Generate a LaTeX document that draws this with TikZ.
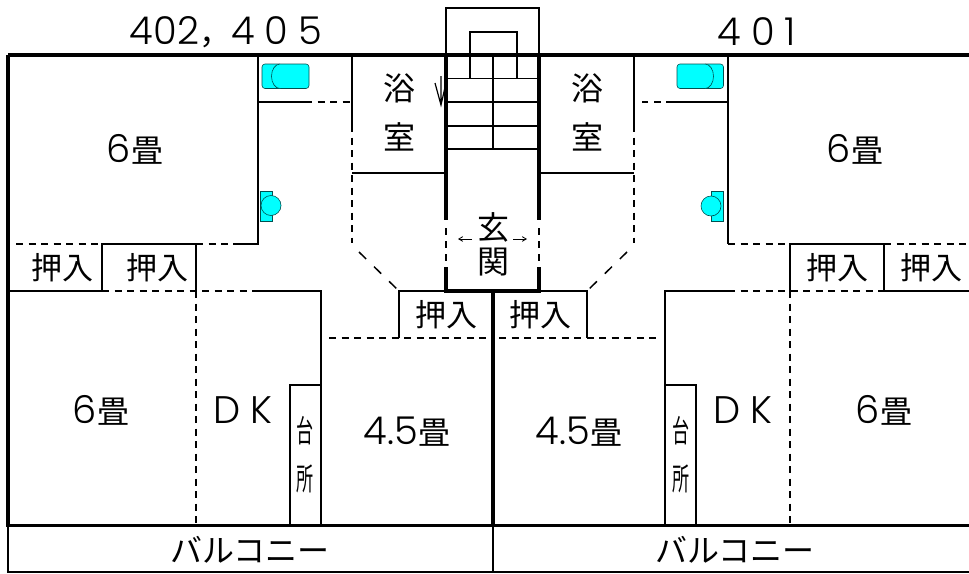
\documentclass[tikz,border=0pt]{standalone}
\usepackage{fontspec}
\setmainfont{Noto Sans CJK JP}
\newfontfamily\digitfont[Scale=1.2]{Poppins Light}
\newfontfamily\numfont[Scale=1.2,LetterSpace=26]{Poppins Light}
\definecolor{aqua}{RGB}{0,255,255}
\definecolor{darkaqua}{RGB}{0,80,80}
\usetikzlibrary{arrows,positioning}
\begin{document}
\begin{tikzpicture}[x=1pt,y=-1pt,
                    wall/.style={line width=3.4pt},
                    thin wall/.style={line width=1.5pt},
                    hair wall/.style={line width=1.1pt},
                    slide/.style={line width=1.5pt,dash pattern=on 7pt off 5.5pt},
                    fixture/.style={fill=aqua,draw=darkaqua,line width=.6pt},
                    room/.style={font=\fontsize{32}{32}\selectfont,inner sep=0pt},
                    closet/.style={font=\fontsize{31}{31}\selectfont,inner sep=0pt},
                    narrow/.style={font=\fontsize{31}{31}\selectfont,inner sep=0pt,xscale=.55,transform shape}]
\useasboundingbox (0,0) rectangle (969,573);

\coordinate (tl) at (8,55);
\coordinate (tr) at (969,55);
\coordinate (bl) at (8,525.5);
\coordinate (br) at (969,525.5);
\coordinate (cm) at (493,525.5);

% balcony
\draw[hair wall] (bl) -- (8,572) -- (969,572);
\draw[hair wall] (cm) -- (493,572);

% stairs
\draw[thin wall] (446,55) -- (446,8) -- (539,8) -- (539,55);
\draw[thin wall] (470,78.5) -- (470,32) -- (517,32) -- (517,78.5);
\draw[thin wall] (493,55) -- (493,149);
\foreach \y in {78.5,102,126,149}
  \draw[thin wall] (446,\y) -- (539,\y);

% inner walls 402, 405
\draw[thin wall] (258,55) -- (258,244) -- (233,244);
\draw[thin wall] (196,291) -- (196,244) -- (102,244) -- (102,291) -- (8,291);
\draw[thin wall] (258,102) -- (305,102);
\draw[thin wall] (352,55) -- (352,125);
\draw[thin wall] (352,173) -- (446,173);
\draw[thin wall] (258,291) -- (321,291) -- (321,525);
\draw[thin wall] (290,525) -- (290,385) -- (321,385);
\draw[thin wall] (446,291) -- (399,291) -- (399,338);
\draw[slide] (305,102) -- (352,102);
\draw[slide] (352,125) -- (352,243);
\draw[slide,dash pattern=on 10pt off 11pt] (359,252) -- (399,291);
\draw[slide] (16,244) -- (102,244);
\draw[slide] (196,244) -- (233,244);
\draw[slide] (102,291) -- (258,291);
\draw[slide] (196,291) -- (196,525);
\draw[slide] (329,338) -- (491,338);

% inner walls 401
\draw[thin wall] (728,55) -- (728,244);
\draw[thin wall] (790,291) -- (790,244) -- (884,244) -- (884,291) -- (969,291);
\draw[thin wall] (673,102) -- (728,102);
\draw[thin wall] (634,55) -- (634,125);
\draw[thin wall] (540,173) -- (634,173);
\draw[thin wall] (728,291) -- (665,291) -- (665,525);
\draw[thin wall] (696,525) -- (696,385) -- (665,385);
\draw[thin wall] (539,291) -- (587,291) -- (587,338);
\draw[slide] (673,102) -- (642,102);
\draw[slide] (634,125) -- (634,243);
\draw[slide,dash pattern=on 10pt off 11pt] (627,252) -- (587,291);
\draw[slide] (728,244) -- (790,244);
\draw[slide] (884,244) -- (969,244);
\draw[slide] (728,291) -- (884,291);
\draw[slide] (790,291) -- (790,525);
\draw[slide] (499,338) -- (657,338);

% outer walls
\draw[wall] (tl) -- (tr);
\draw[wall] (tl) -- (bl) -- (br);
\draw[wall] (493,291) -- (cm);
\draw[wall] (446,55) -- (446,220);
\draw[wall] (539,55) -- (539,220);
\draw[wall] (446,267) -- (446,291) -- (539,291) -- (539,267);
\draw[slide,dash pattern=on 7pt off 6pt] (446,228) -- (446,267);
\draw[slide,dash pattern=on 7pt off 6pt] (539,228) -- (539,267);

% bath arrow
\draw[line width=1.2pt] (441,76) -- (441,105) (435,83) -- (441,105) -- (446,83);

% fixtures
\draw[fixture,rounded corners=3pt] (262,64) rectangle (309,88.5);
\draw[fixture] (280,64) arc[start angle=270,end angle=90,x radius=8.5,y radius=12.25];
\draw[fixture,rounded corners=3pt] (677,64) rectangle (723.5,88.5);
\draw[fixture] (705,64) arc[start angle=-90,end angle=90,x radius=8.5,y radius=12.25];
\draw[fixture] (260,191) rectangle (272,221);
\draw[fixture] (271,205.5) circle (10);
\draw[fixture] (711,191) rectangle (723.5,221);
\draw[fixture] (711,206) circle (10);

% room numbers
\node[room] (numl) at (226,32) {\digitfont 402{\rmfamily ，}\numfont 405};
\node[room] (numr) at (757,32) {\numfont 401};

% rooms
\node[room] (ul) at (135,149) {{\digitfont 6}畳};
\node[room] (ur) at (855,149) {{\digitfont 6}畳};
\node[room] (ml) at (101,410) {{\digitfont 6}畳};
\node[room] (mr) at (884,410) {{\digitfont 6}畳};
\node[room] (tl5) at (407,432) {{\digitfont 4.5}畳};
\node[room] (tr5) at (579,432) {{\digitfont 4.5}畳};
\node[room] (dkl) at (243,410) {{\numfont DK}};
\node[room] (dkr) at (743,410) {{\numfont DK}};

\node[room] (yul) at (399,88) {浴};
\node[room] (shl) at (399,137) {室};
\node[room] (yur) at (587,88) {浴};
\node[room] (shr) at (587,137) {室};

\node[room] (gen) at (493,227) {玄};
\node[room] (kan) at (493,262) {関};
\draw[->,line width=.8pt,>=angle 60] (472,239) -- (458,239);
\draw[->,line width=.8pt,>=angle 60] (513,239) -- (527,239);

\node[closet] (c1) at (62,268) {押入};
\node[closet] (c2) at (157,268) {押入};
\node[closet] (c3) at (837,268) {押入};
\node[closet] (c4) at (931,268) {押入};
\node[closet] (c5) at (446,315) {押入};
\node[closet] (c6) at (540,315) {押入};

\node[narrow] (dail) at (305,431) {台};
\node[narrow] (shol) at (305,479) {所};
\node[narrow] (dair) at (681,431) {台};
\node[narrow] (shor) at (681,479) {所};

\node[room] (bal) at (250,550) {バルコニー};
\node[room] (bar) at (735,550) {バルコニー};
\end{tikzpicture}
\end{document}
